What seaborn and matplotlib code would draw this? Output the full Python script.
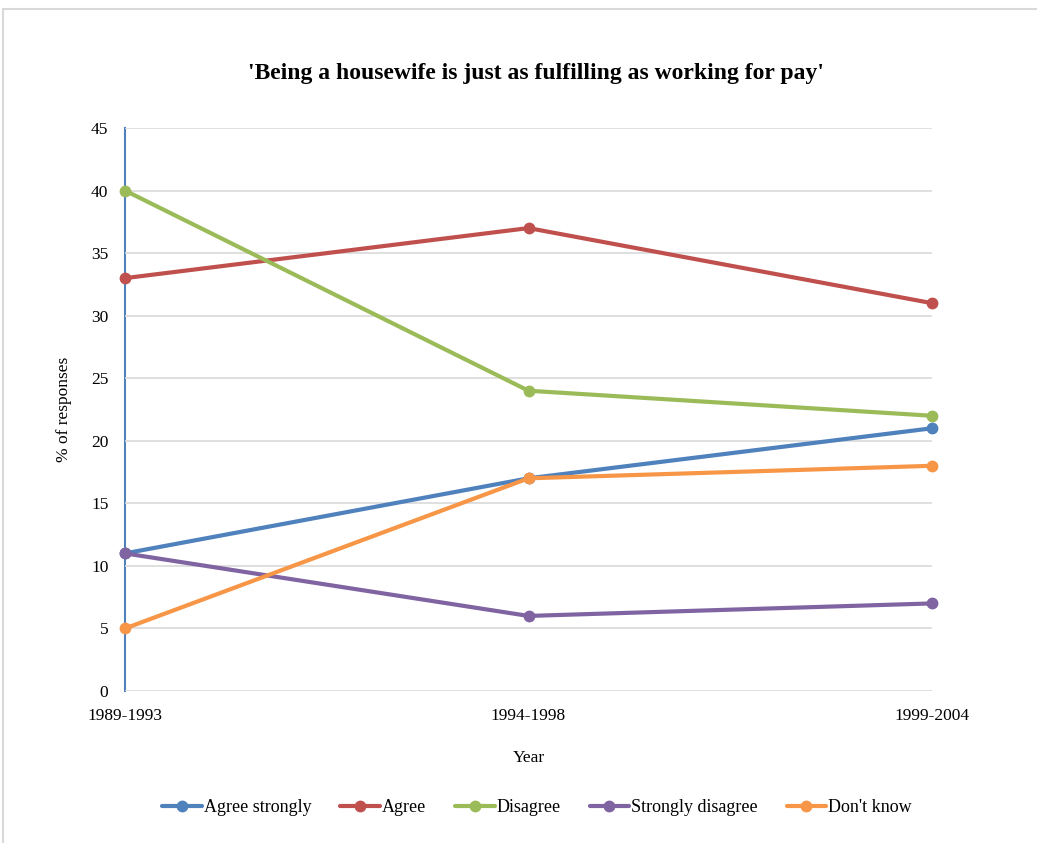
import matplotlib
matplotlib.use("Agg")
import matplotlib.pyplot as plt
import seaborn as sns
import pandas as pd
from matplotlib.patches import Rectangle

periods = ["1989-1993", "1994-1998", "1999-2004"]
agree_strongly = [11, 17, 21]
agree = [33, 37, 31]
disagree = [40, 24, 22]
strongly_disagree = [11, 6, 7]
dont_know = [5, 17, 18]

series_names = ["Agree strongly", "Agree", "Disagree", "Strongly disagree", "Don't know"]
series_values = [agree_strongly, agree, disagree, strongly_disagree, dont_know]
colors = ["#4F81BD", "#C0504D", "#9BBB59", "#8064A2", "#F79646"]

rows = []
for name, vals in zip(series_names, series_values):
    for p, v in zip(periods, vals):
        rows.append({"Year": p, "value": v, "series": name})
df = pd.DataFrame(rows)

sns.set_theme(style="white")
plt.rcParams["font.family"] = ["Liberation Serif", "DejaVu Serif"]
plt.rcParams["text.color"] = "black"
plt.rcParams["axes.labelcolor"] = "black"

fig = plt.figure(figsize=(10.37, 8.43), dpi=100)
fig.patches.append(Rectangle((3 / 1037, -0.01), 1.02, 1 - 9 / 843 + 0.01,
                             transform=fig.transFigure, fill=False,
                             edgecolor="#D9D9D9", linewidth=1.5))
ax = fig.add_axes([125 / 1037, 1 - 691 / 843, (932 - 125) / 1037, (691 - 128) / 843])

sns.lineplot(data=df, x="Year", y="value", hue="series", hue_order=series_names,
             palette=colors, marker="o", markersize=8.5, markeredgewidth=0,
             linewidth=3, sort=False, ax=ax, legend=True)
for line in ax.lines:
    line.set_clip_on(False)

ax.set_xlim(0, 2)
ax.set_ylim(0, 45)
ax.set_yticks(range(0, 46, 5))
ax.yaxis.grid(True, color="#D9D9D9", linewidth=1.2)
ax.set_axisbelow(True)
for s in ["top", "right", "bottom"]:
    ax.spines[s].set_visible(False)
ax.spines["left"].set_color("#4F81BD")
ax.spines["left"].set_linewidth(1.5)
ax.spines["left"].set_zorder(0.5)
ax.tick_params(axis="both", length=0, labelsize=12.5, colors="black")
ax.tick_params(axis="x", pad=12)
ax.tick_params(axis="y", pad=12)

ax.set_xlabel("Year", fontsize=12.5, labelpad=19, color="black")
ax.set_ylabel("% of responses", fontsize=12.5, labelpad=14, color="black")

fig.text(536 / 1037, 1 - 73 / 843, "'Being a housewife is just as fulfilling as working for pay'",
         ha="center", va="center", fontsize=17, fontweight="bold", color="black")

handles, labels = ax.get_legend_handles_labels()
leg = ax.legend(handles, labels, loc="center", bbox_to_anchor=(537 / 1037, 1 - 808 / 843),
                bbox_transform=fig.transFigure, ncol=5, frameon=False, fontsize=13,
                handlelength=2.2, handletextpad=0.1, columnspacing=1.6)
for t in leg.get_texts():
    t.set_color("black")

fig.savefig("out.png", dpi=100, facecolor="white")
